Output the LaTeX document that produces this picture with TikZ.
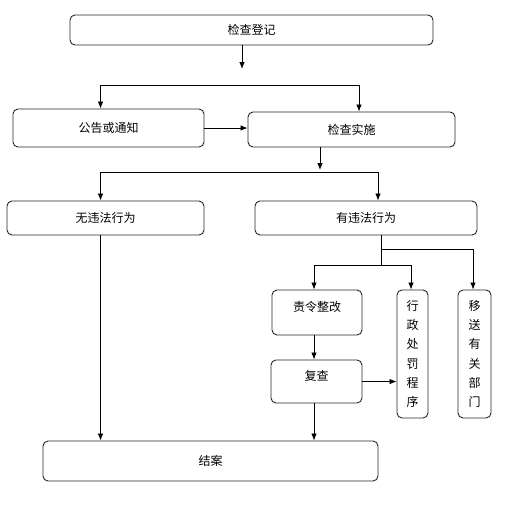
\documentclass[tikz,border=0pt]{standalone}
\usepackage{fontspec}
\newfontfamily\cjk{Noto Sans CJK SC}
\usetikzlibrary{arrows.meta}
\begin{document}
\begin{tikzpicture}[x=1pt,y=-1pt,
  box/.style={draw=black!85, line width=0.9pt, rounded corners=5pt, inner sep=0pt,
    font=\cjk\fontsize{12}{14}\selectfont, align=center},
  vbox/.style={box, font=\cjk\fontsize{12}{19.3}\selectfont},
  arr/.style={line width=0.8pt, -{Latex[length=7pt,width=5.5pt]}},
  ln/.style={line width=0.8pt}]
\useasboundingbox (0,0) rectangle (526,509);
% boxes
\node[box, minimum width=363pt, minimum height=30pt] (reg) at (251.5,30) {检查登记};
\node[box, minimum width=191pt, minimum height=38pt] (notice) at (108.5,128) {公告或通知};
\node[box, minimum width=207pt, minimum height=35pt] (impl) at (351.5,129.5) {检查实施};
\node[box, minimum width=197pt, minimum height=34pt] (none) at (105.5,218) {无违法行为};
\node[box, minimum width=222pt, minimum height=34pt] (viol) at (366,218) {有违法行为};
\node[box, minimum width=90pt, minimum height=45pt] (order) at (317,312.5) {\raisebox{5pt}[0.8em][0.2em]{责令整改}};
\node[vbox, minimum width=31pt, minimum height=128pt] (penal) at (412.5,354) {行\\政\\处\\罚\\程\\序};
\node[vbox, minimum width=33pt, minimum height=128pt] (transfer) at (474.5,354) {移\\送\\有\\关\\部\\门};
\node[box, minimum width=91pt, minimum height=43pt] (recheck) at (316.5,381.5) {\raisebox{5pt}[0.8em][0.2em]{复查}};
\node[box, minimum width=335pt, minimum height=40pt] (close) at (210.5,461) {结案};
% coordinates
\coordinate (c1) at (242,69);
\coordinate (s1) at (100.5,85);
\coordinate (s2) at (359,85);
\coordinate (c2) at (320,170);
\coordinate (t1) at (100.5,172);
\coordinate (t2) at (378,172);
\coordinate (v1) at (381,249);
\coordinate (v2) at (473,249);
\coordinate (v3) at (381,265);
\coordinate (u1) at (314,265);
\coordinate (u2) at (411,265);
% connectors
\draw[arr] (c1 |- reg.south) -- (c1);
\draw[arr] (s1) -- (s1 |- notice.north);
\draw[ln] (s1) -- (s2);
\draw[arr] (s2) -- (s2 |- impl.north);
\draw[arr] (notice.east) -- (notice.east -| impl.west);
\draw[arr] (c2 |- impl.south) -- (c2);
\draw[ln] (t1) -- (t2);
\draw[arr] (t1) -- (t1 |- none.north);
\draw[arr] (t2) -- (t2 |- viol.north);
\draw[arr] (t1 |- none.south) -- (t1 |- close.north);
\draw[ln] (v1 |- viol.south) -- (v1) -- (v2);
\draw[arr] (v2) -- (v2 |- transfer.north);
\draw[ln] (v1) -- (v3);
\draw[ln] (u1) -- (u2);
\draw[arr] (u1) -- (u1 |- order.north);
\draw[arr] (u2) -- (u2 |- penal.north);
\draw[arr] (u1 |- order.south) -- (u1 |- recheck.north);
\draw[arr] (recheck.east) -- (recheck.east -| penal.west);
\draw[arr] (u1 |- recheck.south) -- (u1 |- close.north);
\end{tikzpicture}
\end{document}
